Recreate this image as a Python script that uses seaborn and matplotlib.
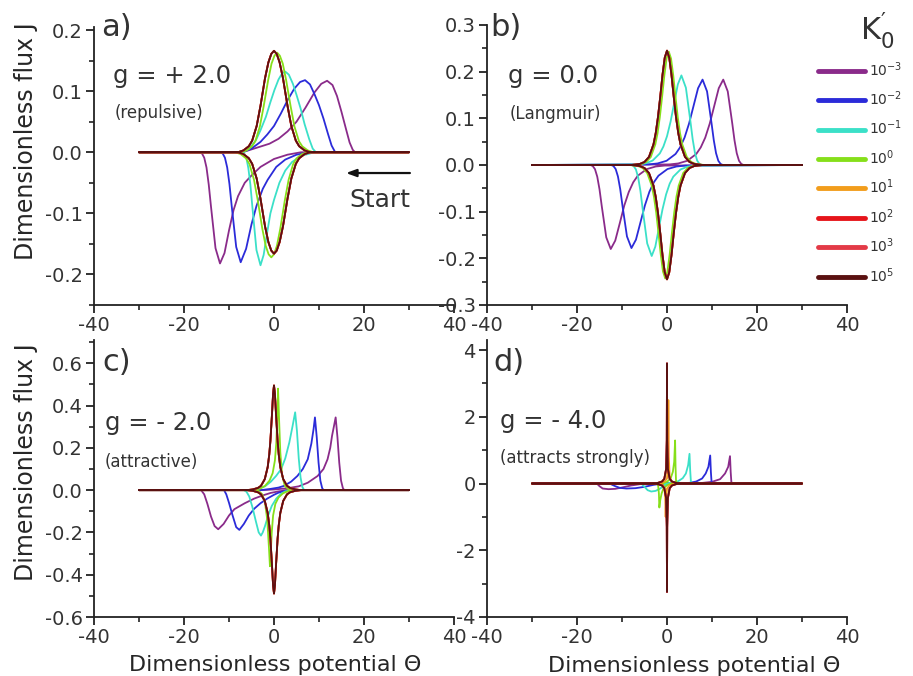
import matplotlib
matplotlib.use("Agg")
import matplotlib.pyplot as plt
import pandas as pd
import seaborn as sns
from matplotlib.ticker import MultipleLocator, FuncFormatter
from matplotlib.lines import Line2D

# ---------------- data ----------------
K_LABELS = ["1e-3", "1e-2", "1e-1", "1e0", "1e1", "1e2", "1e3", "1e5"]
K_TEXT = [r"$10^{-3}$", r"$10^{-2}$", r"$10^{-1}$", r"$10^{0}$",
          r"$10^{1}$", r"$10^{2}$", r"$10^{3}$", r"$10^{5}$"]
COLORS = ["#8a2b8a", "#2b2bd9", "#3be0c8", "#86df1a",
          "#f29d1c", "#e6151b", "#e33a47", "#5a1111"]

# Panel a  (g = +2.0)  -- each list: cathodic scan (30 -> -30) then anodic scan (-30 -> 30)
A_K3_X = [30, 6, 3, 0, -3, -5, -6.5, -8, -9, -10, -11, -12, -13, -14, -14.5, -15, -15.5, -16, -16.5, -30,
          -7, -4, -1, 1, 3, 5, 7, 9, 10.5, 11.8, 13, 14, 15, 16, 16.8, 17.5, 18, 30]
A_K3_Y = [0, 0, -0.004, -0.011, -0.024, -0.038, -0.05, -0.072, -0.095, -0.128, -0.165, -0.182, -0.157, -0.089, -0.053, -0.025, -0.009, -0.002, 0, 0,
          0, 0.007, 0.014, 0.022, 0.034, 0.05, 0.073, 0.098, 0.112, 0.117, 0.11, 0.092, 0.066, 0.038, 0.016, 0.004, 0, 0]
A_K2_X = [30, 8, 5, 2.5, 0.5, -1.4, -2.5, -3.9, -5, -6.2, -7.4, -8.4, -9.4, -9.9, -10.4, -10.9, -11.4, -11.9, -30,
          -7, -5, -3, -1.5, 0, 1.5, 3, 4.5, 5.8, 6.9, 8, 9, 10, 11, 12, 12.8, 13.6, 30]
A_K2_Y = [0, 0, -0.004, -0.012, -0.024, -0.045, -0.06, -0.088, -0.118, -0.158, -0.18, -0.155, -0.088, -0.052, -0.025, -0.009, -0.002, 0, 0,
          0, 0.006, 0.017, 0.029, 0.043, 0.063, 0.085, 0.104, 0.115, 0.118, 0.111, 0.095, 0.077, 0.055, 0.03, 0.011, 0, 0]
A_K1_X = [30, 9, 8, 6, 4, 2.5, 1.2, 0, -0.8, -1.6, -2.3, -3.0, -3.9, -4.8, -5.25, -5.7, -6.15, -6.6, -7.1, -30,
          -7, -5.5, -4, -3, -1.8, -0.8, 0.1, 1, 1.8, 2.5, 3.3, 4.2, 5, 5.9, 6.8, 7.8, 8.6, 9.3, 30]
A_K1_Y = [0, 0, -0.002, -0.006, -0.016, -0.03, -0.05, -0.078, -0.1, -0.135, -0.168, -0.185, -0.16, -0.09, -0.053, -0.026, -0.009, -0.002, 0, 0,
          0, 0.006, 0.02, 0.036, 0.058, 0.082, 0.102, 0.119, 0.129, 0.132, 0.127, 0.112, 0.094, 0.072, 0.046, 0.022, 0.006, 0, 0]
A_K0_X = [30, 7.4, 6.2, 5.0, 4.25, 3.25, 2.4, 1.4, 0.65, 0, -0.6, -1.2, -1.85, -2.6, -3.6, -4.45, -5.45, -6.2, -7.4, -8.6, -30,
          -7.3, -6.1, -4.9, -4.15, -3.15, -2.3, -1.3, -0.55, 0.1, 0.7, 1.3, 1.95, 2.7, 3.7, 4.55, 5.55, 6.3, 7.5, 8.7, 30]
A_K0_Y = [0, 0, -0.003, -0.0101, -0.0194, -0.045, -0.079, -0.125, -0.153, -0.167, -0.172, -0.167, -0.153, -0.125, -0.079, -0.045, -0.0194, -0.0101, -0.003, 0, 0,
          0, 0.003, 0.0096, 0.018, 0.042, 0.075, 0.118, 0.145, 0.158, 0.163, 0.158, 0.145, 0.118, 0.075, 0.042, 0.018, 0.0096, 0.003, 0, 0]
A_REV_X = [30, 8, 6.8, 5.6, 4.85, 3.85, 3, 2, 1.25, 0.6, 0, -0.6, -1.25, -2, -3, -3.85, -4.85, -5.6, -6.8, -8, -30,
           -8, -6.8, -5.6, -4.85, -3.85, -3, -2, -1.25, -0.6, 0, 0.6, 1.25, 2, 3, 3.85, 4.85, 5.6, 6.8, 8, 30]
A_REV_Y = [0, 0, -0.003, -0.0098, -0.019, -0.043, -0.076, -0.121, -0.147, -0.161, -0.166, -0.161, -0.147, -0.121, -0.076, -0.043, -0.019, -0.0098, -0.003, 0, 0,
           0, 0.003, 0.0098, 0.019, 0.043, 0.076, 0.121, 0.147, 0.161, 0.166, 0.161, 0.147, 0.121, 0.076, 0.043, 0.019, 0.0098, 0.003, 0, 0]

# Panel b  (g = 0.0, Langmuir)
B_K3_X = [30, -0.5, -2.5, -4.5, -6.5, -7.5, -8.5, -9.5, -10.5, -11.5, -12.5, -13.5, -14.5, -15, -15.5, -16, -16.5, -17, -30,
          0.5, 2.5, 4.5, 6.5, 7.5, 8.5, 9.5, 10.5, 11.5, 12.5, 13.5, 14.5, 15, 15.5, 16, 16.5, 17, 30]
B_K3_Y = [0, -0.0012, -0.0032, -0.0088, -0.023, -0.037, -0.058, -0.087, -0.125, -0.162, -0.18, -0.155, -0.088, -0.052, -0.025, -0.009, -0.0022, 0, 0,
          0.0012, 0.0033, 0.009, 0.0236, 0.0377, 0.0587, 0.0888, 0.1266, 0.1645, 0.183, 0.1577, 0.0893, 0.0529, 0.0253, 0.0091, 0.0023, 0, 0]
B_K2_X = [30, 4.1, 2.1, 0.1, -1.9, -2.9, -3.9, -4.9, -5.9, -6.9, -7.9, -8.9, -9.9, -10.4, -10.9, -11.4, -11.9, -12.4, -30,
          -4.1, -2.1, -0.1, 1.9, 2.9, 3.9, 4.9, 5.9, 6.9, 7.9, 8.9, 9.9, 10.4, 10.9, 11.4, 11.9, 12.4, 30]
B_K2_Y = [0, -0.0012, -0.0032, -0.0087, -0.023, -0.0367, -0.0571, -0.0863, -0.123, -0.16, -0.178, -0.153, -0.0869, -0.0514, -0.0246, -0.0088, -0.0022, 0, 0,
          0.0012, 0.0033, 0.009, 0.0236, 0.0377, 0.0587, 0.0888, 0.1266, 0.1645, 0.183, 0.1577, 0.0893, 0.0529, 0.0253, 0.0091, 0.0023, 0, 0]
B_K1_X = [30, 6.2, 4.6, 3.0, 1.4, 0.6, -0.2, -1.0, -1.8, -2.6, -3.4, -4.4, -5.4, -5.9, -6.4, -6.9, -7.4, -7.9, -30,
          -6.4, -4.8, -3.2, -1.6, -0.8, 0.0, 0.8, 1.6, 2.4, 3.2, 4.2, 5.2, 5.7, 6.2, 6.7, 7.2, 7.7, 30]
B_K1_Y = [0, -0.0013, -0.0035, -0.0096, -0.025, -0.04, -0.063, -0.095, -0.135, -0.175, -0.195, -0.168, -0.095, -0.056, -0.027, -0.0097, -0.0024, 0, 0,
          0.0013, 0.0035, 0.0094, 0.0248, 0.0396, 0.0616, 0.0931, 0.1329, 0.1726, 0.192, 0.1655, 0.0937, 0.0555, 0.0265, 0.0095, 0.0024, 0, 0]
B_K0_X = [30, 7.6, 6.6, 5.6, 4.6, 3.6, 2.6, 2.1, 1.6, 1.1, 0.6, 0.1, -0.4, -0.9, -1.4, -1.9, -2.4, -2.9, -3.4, -4.4, -5.4, -6.4, -7.4, -8.4, -30,
          -7.6, -6.6, -5.6, -4.6, -3.6, -2.6, -2.1, -1.6, -1.1, -0.6, -0.1, 0.4, 0.9, 1.4, 1.9, 2.4, 2.9, 3.4, 4.4, 5.4, 6.4, 7.4, 8.4, 30]
B_K0_Y = [0, 0, -0.0009, -0.0024, -0.0065, -0.0172, -0.044, -0.068, -0.102, -0.145, -0.191, -0.228, -0.243, -0.228, -0.191, -0.145, -0.102, -0.068, -0.044, -0.0172, -0.0065, -0.0024, -0.0009, 0, 0,
          0, 0.0009, 0.0024, 0.0065, 0.0172, 0.044, 0.068, 0.102, 0.145, 0.191, 0.228, 0.243, 0.228, 0.191, 0.145, 0.102, 0.068, 0.044, 0.0172, 0.0065, 0.0024, 0.0009, 0, 0]
B_REV_X = [30, 8, 7, 6, 5, 4, 3, 2.5, 2, 1.5, 1, 0.5, 0, -0.5, -1, -1.5, -2, -2.5, -3, -4, -5, -6, -7, -8, -30,
           -8, -7, -6, -5, -4, -3, -2.5, -2, -1.5, -1, -0.5, 0, 0.5, 1, 1.5, 2, 2.5, 3, 4, 5, 6, 7, 8, 30]
B_REV_Y = [0, 0, -0.0009, -0.0024, -0.0065, -0.0173, -0.0443, -0.0686, -0.103, -0.146, -0.193, -0.23, -0.245, -0.23, -0.193, -0.146, -0.103, -0.0686, -0.0443, -0.0173, -0.0065, -0.0024, -0.0009, 0, 0,
           0, 0.0009, 0.0024, 0.0065, 0.0173, 0.0443, 0.0686, 0.103, 0.146, 0.193, 0.23, 0.245, 0.23, 0.193, 0.146, 0.103, 0.0686, 0.0443, 0.0173, 0.0065, 0.0024, 0.0009, 0, 0]

# Panel c  (g = -2.0, attractive)
C_K3_X = [30, 3, 1, -0.7, -2.5, -4.4, -6.5, -8.8, -10, -11.2, -12.4, -13.2, -14, -14.8, -15.5, -16.2, -30,
          -3, 0, 3, 5.5, 7.5, 9.7, 11, 11.9, 12.5, 12.9, 13.3, 13.7, 14.1, 14.5, 14.9, 15.3, 15.6, 30]
C_K3_Y = [0, 0, -0.006, -0.013, -0.025, -0.04, -0.062, -0.09, -0.12, -0.16, -0.185, -0.17, -0.125, -0.065, -0.02, 0, 0,
          0, 0.003, 0.009, 0.018, 0.035, 0.067, 0.1, 0.146, 0.2, 0.257, 0.3, 0.344, 0.25, 0.13, 0.045, 0.01, 0, 0]
C_K2_X = [30, 4, 2.5, 1, 0, -1.5, -3, -4.4, -5.6, -6.7, -7.7, -8.4, -9.2, -10, -10.6, -11.1, -30,
          -3, -1, 1, 2.2, 3.8, 5.2, 6.4, 7.5, 8.3, 8.8, 9.1, 9.5, 9.9, 10.3, 10.7, 11, 30]
C_K2_Y = [0, 0, -0.004, -0.012, -0.022, -0.04, -0.062, -0.088, -0.12, -0.16, -0.188, -0.175, -0.12, -0.06, -0.02, 0, 0,
          0, 0.005, 0.012, 0.02, 0.04, 0.067, 0.1, 0.146, 0.22, 0.29, 0.344, 0.25, 0.13, 0.045, 0.01, 0, 0]
C_K1_X = [30, 4, 2.5, 1.5, 0.5, -0.5, -1.3, -2, -2.5, -2.9, -3.4, -4, -4.8, -5.5, -6.1, -6.7, -30,
          -5, -3.5, -2, -0.7, 0.5, 1.6, 2.5, 3.4, 4.1, 4.7, 5.1, 5.5, 5.9, 6.3, 6.7, 30]
C_K1_Y = [0, 0, -0.006, -0.018, -0.04, -0.075, -0.12, -0.17, -0.2, -0.215, -0.2, -0.15, -0.08, -0.03, -0.008, 0, 0,
          0, 0.006, 0.018, 0.04, 0.068, 0.1, 0.15, 0.225, 0.3, 0.368, 0.28, 0.15, 0.06, 0.015, 0, 0]
C_K0_X = [30, 5, 3, 2, 1, 0.3, -0.2, -0.5, -0.7, -0.9, -1.1, -1.5, -2, -2.6, -3.4, -4.2, -30,
          -5, -3, -2, -1, -0.3, 0.2, 0.5, 0.7, 0.9, 1.1, 1.4, 1.8, 2.4, 3.2, 4, 30]
C_K0_Y = [0, 0, -0.006, -0.015, -0.035, -0.065, -0.12, -0.2, -0.29, -0.36, -0.28, -0.14, -0.06, -0.02, -0.004, 0, 0,
          0, 0.008, 0.02, 0.045, 0.08, 0.14, 0.22, 0.33, 0.48, 0.35, 0.18, 0.07, 0.02, 0.004, 0, 0]
C_REV_X = [30, 6, 4.8, 3.6, 2.9, 2.05, 1.4, 1.05, 0.8, 0.45, 0.2, 0, -0.2, -0.45, -0.8, -1.05, -1.4, -2.05, -2.9, -3.6, -4.8, -6, -30,
           -6, -4.8, -3.6, -2.9, -2.05, -1.4, -1.05, -0.8, -0.45, -0.2, 0, 0.2, 0.45, 0.8, 1.05, 1.4, 2.05, 2.9, 3.6, 4.8, 6, 30]
C_REV_Y = [0, 0, -0.0029, -0.0098, -0.0196, -0.051, -0.108, -0.167, -0.23, -0.354, -0.451, -0.489, -0.451, -0.354, -0.23, -0.167, -0.108, -0.051, -0.0196, -0.0098, -0.0029, 0, 0,
           0, 0.003, 0.01, 0.02, 0.052, 0.109, 0.169, 0.233, 0.358, 0.457, 0.495, 0.457, 0.358, 0.233, 0.169, 0.109, 0.052, 0.02, 0.01, 0.003, 0, 0]

# Panel d  (g = -4.0, attracts strongly)
D_K3_X = [30, -3, -6, -8, -10, -11.5, -13, -14.3, -15, -15.6, -30,
          6, 8, 10, 11.8, 12.9, 13.6, 14, 14.15, 14.3, 14.5, 30]
D_K3_Y = [0, 0, -0.02, -0.06, -0.12, -0.16, -0.17, -0.15, -0.08, 0, 0,
          0, 0.02, 0.05, 0.13, 0.3, 0.5, 0.82, 0.35, 0.05, 0, 0]
D_K2_X = [30, -1, -3, -5, -7, -9, -10.5, -11.5, -12.3, -12.8, -30,
          3, 5, 6.5, 7.8, 8.6, 9.2, 9.6, 9.75, 9.9, 10.1, 30]
D_K2_Y = [0, 0, -0.04, -0.1, -0.14, -0.15, -0.13, -0.08, -0.03, 0, 0,
          0, 0.02, 0.06, 0.15, 0.3, 0.5, 0.84, 0.35, 0.05, 0, 0]
D_K1_X = [30, 0.5, -0.5, -1.5, -2.5, -3.5, -4.3, -5, -5.5, -6, -30,
          0, 1.5, 2.5, 3.5, 4.2, 4.7, 5, 5.15, 5.3, 5.5, 30]
D_K1_Y = [0, 0, -0.05, -0.15, -0.22, -0.24, -0.2, -0.1, -0.03, 0, 0,
          0, 0.03, 0.07, 0.16, 0.3, 0.55, 0.89, 0.4, 0.08, 0, 0]
D_K0_X = [30, 1, 0, -0.8, -1.2, -1.5, -1.7, -1.8, -1.95, -2.2, -30,
          -1, 0, 0.8, 1.3, 1.6, 1.8, 1.9, 2.0, 2.2, 30]
D_K0_Y = [0, 0, -0.05, -0.15, -0.3, -0.5, -0.72, -0.3, -0.08, 0, 0,
          0, 0.05, 0.15, 0.35, 0.65, 1.29, 0.5, 0.1, 0, 0]
D_KP1_X = [30, 3, 1.5, 0.5, 0, -0.15, -0.25, -0.3, -0.4, -0.6, -1, -2, -30,
           -3, -1.5, -0.5, 0, 0.15, 0.25, 0.3, 0.4, 0.6, 1, 2, 30]
D_KP1_Y = [0, 0, -0.02, -0.06, -0.15, -0.4, -0.7, -1.0, -0.4, -0.12, -0.03, 0, 0,
           0, 0.02, 0.06, 0.15, 0.5, 1.2, 2.5, 0.8, 0.2, 0.05, 0, 0]
D_REV_X = [30, 3, 2, 1.1, 0.6, 0.19, 0.05, 0, -0.05, -0.19, -0.6, -1.1, -2, -3, -30,
           -3, -2, -1.1, -0.6, -0.19, -0.05, 0, 0.05, 0.19, 0.6, 1.1, 2, 3, 30]
D_REV_Y = [0, 0, -0.02, -0.06, -0.14, -0.44, -1.3, -3.25, -1.3, -0.44, -0.14, -0.06, -0.02, 0, 0,
           0, 0.02, 0.06, 0.14, 0.44, 1.3, 3.6, 1.3, 0.44, 0.14, 0.06, 0.02, 0, 0]

PANEL_SERIES = {
    "a": [(A_K3_X, A_K3_Y), (A_K2_X, A_K2_Y), (A_K1_X, A_K1_Y), (A_K0_X, A_K0_Y),
          (A_REV_X, A_REV_Y), (A_REV_X, A_REV_Y), (A_REV_X, A_REV_Y), (A_REV_X, A_REV_Y)],
    "b": [(B_K3_X, B_K3_Y), (B_K2_X, B_K2_Y), (B_K1_X, B_K1_Y), (B_K0_X, B_K0_Y),
          (B_REV_X, B_REV_Y), (B_REV_X, B_REV_Y), (B_REV_X, B_REV_Y), (B_REV_X, B_REV_Y)],
    "c": [(C_K3_X, C_K3_Y), (C_K2_X, C_K2_Y), (C_K1_X, C_K1_Y), (C_K0_X, C_K0_Y),
          (C_REV_X, C_REV_Y), (C_REV_X, C_REV_Y), (C_REV_X, C_REV_Y), (C_REV_X, C_REV_Y)],
    "d": [(D_K3_X, D_K3_Y), (D_K2_X, D_K2_Y), (D_K1_X, D_K1_Y), (D_K0_X, D_K0_Y),
          (D_KP1_X, D_KP1_Y), (D_REV_X, D_REV_Y), (D_REV_X, D_REV_Y), (D_REV_X, D_REV_Y)],
}
G_TEXT = {"a": "g = + 2.0", "b": "g = 0.0", "c": "g = - 2.0", "d": "g = - 4.0"}
SUB_TEXT = {"a": "(repulsive)", "b": "(Langmuir)", "c": "(attractive)", "d": "(attracts strongly)"}

# ---------------- styling / layout ----------------
sns.set_style("ticks")
plt.rcParams.update({
    "font.family": ["DejaVu Sans"],
    "mathtext.default": "regular",
    "axes.unicode_minus": False,
    "axes.linewidth": 1.3,
    "axes.edgecolor": "#222222",
    "text.color": "#333333",
    "xtick.color": "#222222",
    "ytick.color": "#222222",
    "xtick.labelcolor": "#333333",
    "ytick.labelcolor": "#333333",
})

W, H = 913, 676
fig = plt.figure(figsize=(W / 100, H / 100), dpi=100)


def rect(l, t, r, b):
    return [l / W, 1 - b / H, (r - l) / W, (b - t) / H]


LAYOUT = {
    "a": dict(rect=rect(94, 27, 454, 305), ylim=(-0.25, 0.205), major=0.1, minor=0.05, fmt="%.1f"),
    "b": dict(rect=rect(487, 25, 847, 305), ylim=(-0.3, 0.3), major=0.1, minor=0.05, fmt="%.1f"),
    "c": dict(rect=rect(94, 340, 454, 617), ylim=(-0.6, 0.71), major=0.2, minor=0.1, fmt="%.1f"),
    "d": dict(rect=rect(487, 340, 847, 617), ylim=(-4, 4.3), major=2, minor=1, fmt="%d"),
}


def make_fmt(fmt):
    def f(v, pos):
        if abs(v) < 1e-9:
            v = 0.0
        return fmt % v
    return FuncFormatter(f)


axes = {}
for key, cfg in LAYOUT.items():
    ax = fig.add_axes(cfg["rect"])
    axes[key] = ax
    frames = []
    for lab, (xs, ys) in zip(K_LABELS, PANEL_SERIES[key]):
        frames.append(pd.DataFrame({"x": xs, "y": ys, "K": lab}))
    df = pd.concat(frames, ignore_index=True)
    sns.lineplot(data=df, x="x", y="y", hue="K", hue_order=K_LABELS,
                 palette=COLORS, estimator=None, sort=False, lw=1.3,
                 legend=False, ax=ax)
    ax.set_xlim(-40, 40)
    ax.set_ylim(*cfg["ylim"])
    ax.xaxis.set_major_locator(MultipleLocator(20))
    ax.xaxis.set_minor_locator(MultipleLocator(10))
    ax.yaxis.set_major_locator(MultipleLocator(cfg["major"]))
    ax.yaxis.set_minor_locator(MultipleLocator(cfg["minor"]))
    ax.yaxis.set_major_formatter(make_fmt(cfg["fmt"]))
    ax.set_xlabel("")
    ax.set_ylabel("")
    sns.despine(ax=ax)
    ax.tick_params(which="major", direction="out", length=6, width=1.3, labelsize=14, pad=2)
    ax.tick_params(which="minor", direction="out", length=3.5, width=1.2)

# axis labels
axes["a"].set_ylabel("Dimensionless flux J", fontsize=17, va="center")
axes["a"].yaxis.set_label_coords(-0.19, 0.59)
axes["c"].set_ylabel("Dimensionless flux J", fontsize=17, va="center")
axes["c"].yaxis.set_label_coords(-0.19, 0.56)
axes["c"].set_xlabel("Dimensionless potential \u0398", fontsize=16, va="center")
axes["c"].xaxis.set_label_coords(0.503, -0.173)
axes["d"].set_xlabel("Dimensionless potential \u0398", fontsize=16, va="center")
axes["d"].xaxis.set_label_coords(0.575, -0.177)


def ftext(px, py, s, **kw):
    fig.text(px / W, 1 - py / H, s, **kw)


# panel letters and annotations
PANEL_POS = {"a": (101, 36), "b": (490, 36), "c": (102, 371), "d": (493, 371)}
G_POS = {"a": (113, 83), "b": (508, 83), "c": (105, 430), "d": (500, 428)}
SUB_POS = {"a": (115, 118), "b": (510, 119), "c": (105, 467), "d": (500, 463)}
for key in "abcd":
    ftext(*PANEL_POS[key], key + ")", fontsize=22, va="baseline", ha="left")
    ftext(*G_POS[key], G_TEXT[key], fontsize=17.5, va="baseline", ha="left")
    ftext(*SUB_POS[key], SUB_TEXT[key], fontsize=12, va="baseline", ha="left")

# Start arrow in panel a
axes["a"].annotate("", xy=(16, -0.034), xytext=(30.2, -0.034),
                   arrowprops=dict(arrowstyle="-|>,head_length=0.6,head_width=0.22",
                                   color="#111111", lw=1.6, shrinkA=0, shrinkB=0))
axes["a"].text(30.3, -0.0895, "Start", ha="right", va="baseline", fontsize=18)

# legend
handles = [Line2D([0], [0], color=c, lw=3.5) for c in COLORS]
fig.legend(handles, K_TEXT, loc="upper left", bbox_to_anchor=(818 / W, 1 - 60 / H),
           frameon=False, fontsize=10, handlelength=3.4, handletextpad=0.3,
           labelspacing=0.78, borderaxespad=0, borderpad=0)
ftext(860, 40, r"$K_{0}^{\prime}$", fontsize=22, va="baseline", ha="left")

fig.savefig("out.png", dpi=100)
